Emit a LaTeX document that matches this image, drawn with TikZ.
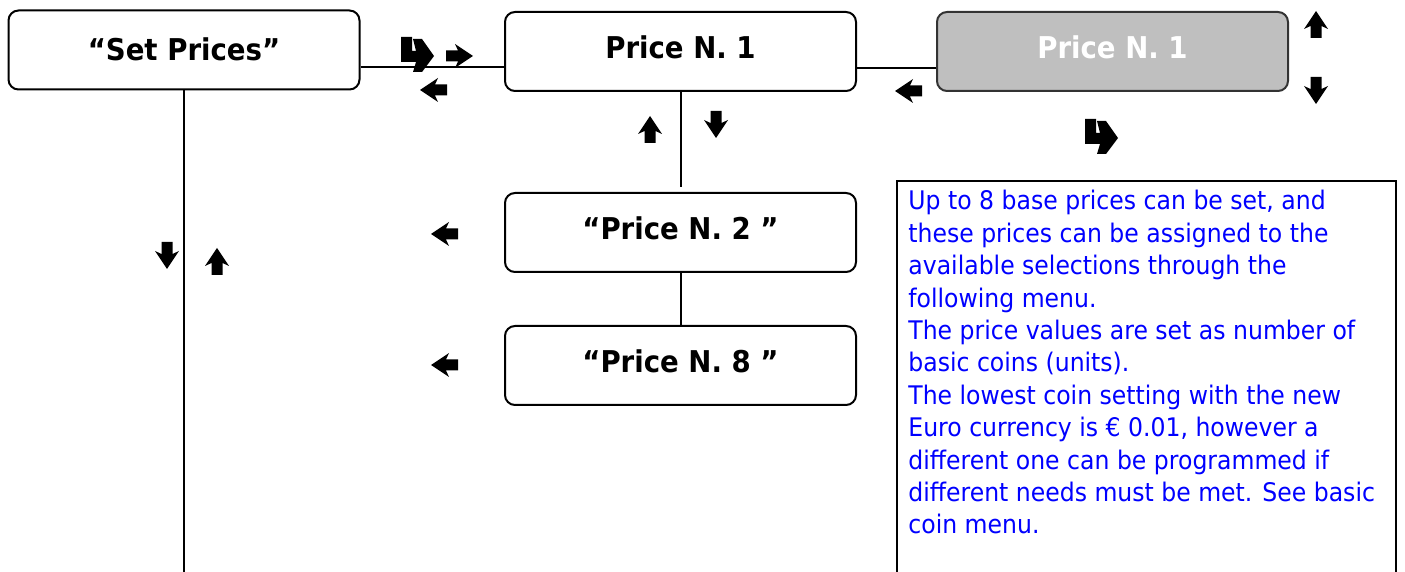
\documentclass[tikz,border=0pt]{standalone}
\usepackage{fontspec}
\setmainfont{DejaVu Sans}[FakeStretch=0.92]
\begin{document}
\begin{tikzpicture}[x=0.5pt,y=-0.5pt,
  menubox/.style={draw=black,line width=1pt,rounded corners=5pt,
    minimum width=175.5pt,minimum height=39.5pt,inner sep=0pt},
  graybox/.style={menubox,draw=black!80,fill=black!25},
  lbl/.style={font=\bfseries\fontsize{15}{17}\selectfont,inner sep=0pt},
  wire/.style={line width=1pt},
  note/.style={font=\fontsize{12.8}{16.2}\selectfont,text=blue,align=left,
    inner sep=0pt,anchor=north west},
  pics/bigarrow/.style={code={
    \fill (-13,-5.5) -- (-1,-5.5) -- (-4,-12) -- (14,0) -- (-4,12) -- (-1,5.5)
      -- (-13,5.5) -- cycle;}},
  pics/hookarrow/.style={code={
    \fill[shift={(-16,-18)}] (0,0) -- (11,0) -- (11,14) -- (15,14) -- (12,2)
      -- (21,2) -- (33,19) -- (21,35) -- (12,35) -- (15,25) -- (0,25) -- cycle;}}]
\useasboundingbox (0,0) rectangle (1405,572);

% menu boxes
\node[menubox] (sp) at (184,50) {};
\node[lbl] at ([yshift=0.5pt]sp.center) {“Set Prices”};
\node[menubox] (p1) at (680.5,51.5) {};
\node[lbl] at ([yshift=2pt]p1.center) {Price N. 1};
\node[graybox] (g1) at (1112.5,51.5) {};
\node[lbl,text=white] at ([yshift=2pt]g1.center) {Price N. 1};
\node[menubox] (p2) at (680.5,232.5) {};
\node[lbl] at ([yshift=2pt]p2.center) {“Price N. 2 ”};
\node[menubox] (p8) at (680.5,365.5) {};
\node[lbl] at ([yshift=2pt]p8.center) {“Price N. 8 ”};

% connectors
\coordinate (spend) at (184,572);
\draw[wire] ([yshift=-8.5pt]sp.east) -- ([yshift=-8.5pt]sp.east -| p1.west);
\draw[wire] ([yshift=-8.25pt]p1.east) -- ([yshift=-8.25pt]p1.east -| g1.west);
\draw[wire,shorten >=2.5pt] (p1.south) -- (p2.north);
\draw[wire] (p2.south) -- (p8.north);
\draw[wire] (sp.south) -- (spend);

% key arrows
\pic at (417,55) {hookarrow};
\pic at (459,56) {bigarrow};
\pic[rotate=180] at (434,90) {bigarrow};
\pic[rotate=180] at (909,91) {bigarrow};
\pic[rotate=90] at (1316,25) {bigarrow};
\pic[rotate=270] at (1316,90) {bigarrow};
\pic at (1101,137) {hookarrow};
\pic[rotate=90] at (650,130) {bigarrow};
\pic[rotate=270] at (716,124) {bigarrow};
\pic[rotate=180] at (445,234) {bigarrow};
\pic[rotate=180] at (445,365) {bigarrow};
\pic[rotate=270] at (167,255) {bigarrow};
\pic[rotate=90] at (217,262) {bigarrow};

% explanatory note
\draw[wire] (897,572) -- (897,181) -- (1396,181) -- (1396,572);
\node[note] (txt) at (908,190) {Up to 8 base prices can be set, and\\
these prices can be assigned to the\\
available selections through the\\
following menu.\\
The price values are set as number of\\
basic coins (units).\\
The lowest coin setting with the new\\
Euro currency is € 0.01, however a\\
different one can be programmed if\\
different needs must be met. See basic\\
coin menu.};
\end{tikzpicture}
\end{document}
